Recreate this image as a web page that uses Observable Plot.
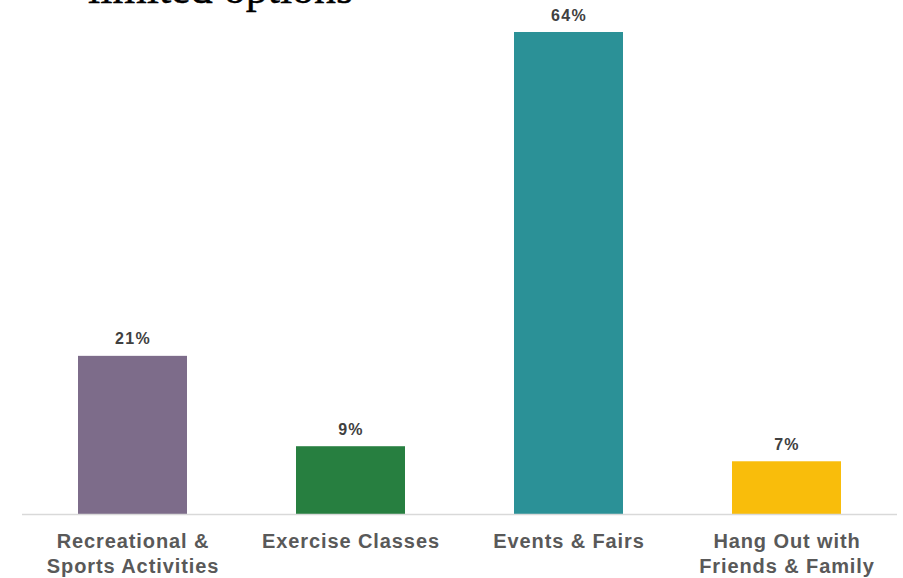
<!DOCTYPE html>
<html>
<head>
<meta charset="utf-8">
<script src="https://cdn.jsdelivr.net/npm/d3@7"></script>
<script src="https://cdn.jsdelivr.net/npm/@observablehq/plot@0.6"></script>
<style>
  html, body { margin: 0; padding: 0; background: #fff; overflow: hidden; }
  #wrap { position: relative; width: 903px; height: 578px; }
  #title { position: absolute; left: 88px; top: -33px; font-family: "Liberation Serif", "DejaVu Serif", serif; font-size: 44px; line-height: 44px; color: #000; white-space: nowrap; -webkit-text-stroke: 0.4px #000; }
  #chart { position: absolute; left: 0; top: 0; }
  #chart g[aria-label="x-axis tick label"] text { letter-spacing: 0.9px; }
  #chart g.vlabels text { letter-spacing: 1.3px; }
</style>
</head>
<body>
<div id="wrap">
  <div id="chart"></div>
  <div id="title">limited options</div>
</div>
<script>
const categories = ["Recreational &\nSports Activities", "Exercise Classes", "Events & Fairs", "Hang Out with\nFriends & Family"];
const values = [21, 9, 64, 7];
const colors = ["#7d6c8a", "#277f40", "#2b9197", "#f9bd0b"];
const valueLabels = ["21%", "9%", "64%", "7%"];

const data = categories.map((c, i) => ({cat: c, value: values[i], color: colors[i], label: valueLabels[i]}));

const chart = Plot.plot({
  width: 903,
  height: 578,
  marginTop: 32,
  marginBottom: 64,
  marginLeft: 22,
  marginRight: 6,
  style: {fontFamily: "'Liberation Sans', Arial, sans-serif", background: "transparent"},
  x: {domain: categories, paddingInner: 0.5, paddingOuter: 0.25, label: null},
  y: {domain: [0, 64], axis: null},
  marks: [
    Plot.barY(data, {x: "cat", y: "value", fill: "color"}),
    Plot.ruleY([0], {stroke: "#d9d9d9", strokeWidth: 1.5}),
    Plot.text(data, {x: "cat", y: "value", text: "label", dy: -17, fontSize: 16, fontWeight: "bold", fill: "#404040", className: "vlabels"}),
    Plot.axisX({tickSize: 0, tickPadding: 16, fontSize: 20, fontWeight: "bold", fill: "#595959", lineHeight: 1.25, label: null})
  ]
});
document.getElementById("chart").appendChild(chart);
</script>
</body>
</html>
